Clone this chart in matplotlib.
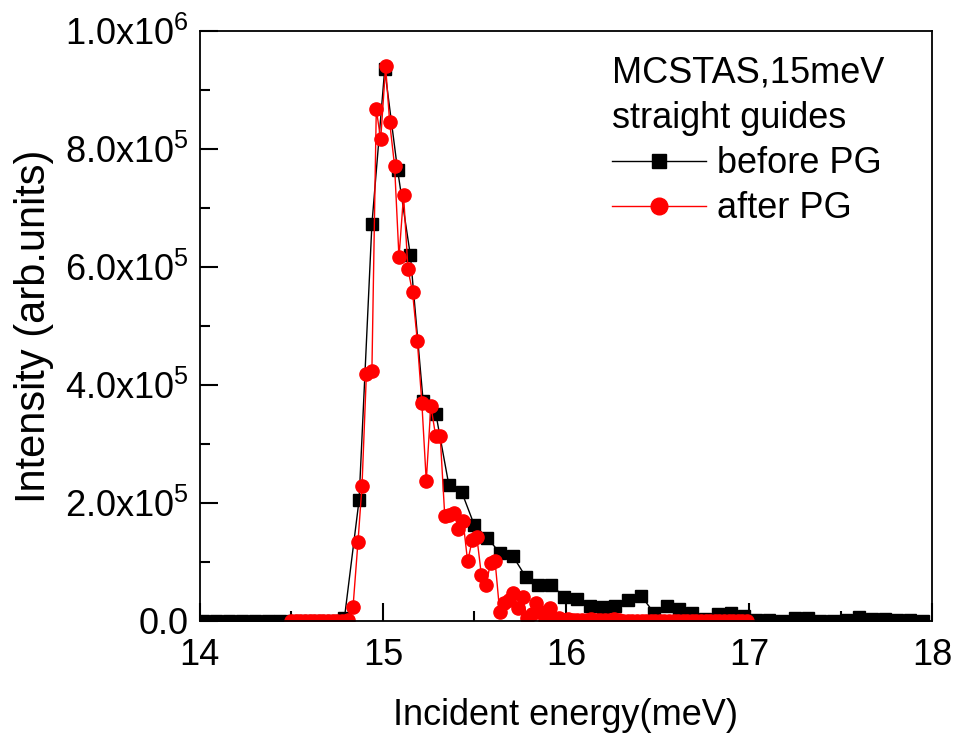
import matplotlib
matplotlib.use("Agg")
import matplotlib.pyplot as plt
from matplotlib.ticker import MultipleLocator, FixedLocator

plt.rcParams['font.family'] = ['Liberation Sans', 'DejaVu Sans']
plt.rcParams['mathtext.fontset'] = 'custom'
plt.rcParams['mathtext.rm'] = 'Liberation Sans'
plt.rcParams['mathtext.it'] = 'Liberation Sans'
plt.rcParams['mathtext.bf'] = 'Liberation Sans'

# before PG (black squares), energy in meV, intensity in units of 1e3
before_E = [14.02, 14.09, 14.16, 14.23, 14.30, 14.37, 14.44, 14.51, 14.58, 14.65,
            14.72, 14.79, 14.87, 14.94, 15.01, 15.08, 15.15, 15.22, 15.29, 15.36,
            15.43, 15.50, 15.57, 15.64, 15.71, 15.78, 15.85, 15.92, 15.99, 16.06,
            16.13, 16.20, 16.27, 16.34, 16.41, 16.48, 16.55, 16.62, 16.69, 16.76,
            16.83, 16.90, 16.97, 17.04, 17.11, 17.18, 17.25, 17.32, 17.39, 17.46,
            17.53, 17.60, 17.67, 17.74, 17.81, 17.88, 17.95]
before_I = [0, 0, 0, 0, 0, 0, 0, 0, 0, 0,
            0, 5, 205, 672, 935, 765, 620, 372, 350, 231,
            219, 162, 141, 115, 110, 75, 61, 61, 41, 37,
            26, 23, 26, 36, 43, 14, 26, 20, 13, 3,
            11, 14, 8, 1, 1, 0, 5, 5, 0, 0,
            1, 7, 3, 3, 2, 2, 0.5]

# after PG (red circles)
after_E = [14.50, 14.525, 14.55, 14.575, 14.60, 14.625, 14.65, 14.675, 14.70, 14.725,
           14.75, 14.775, 14.81, 14.837, 14.864, 14.886, 14.91, 14.94, 14.964, 14.988,
           15.015, 15.037, 15.064, 15.088, 15.113, 15.137, 15.162, 15.188, 15.213, 15.237,
           15.262, 15.288, 15.313, 15.338, 15.363, 15.388, 15.413, 15.438, 15.463, 15.488,
           15.513, 15.538, 15.563, 15.588, 15.613, 15.638, 15.663, 15.688, 15.713, 15.738,
           15.763, 15.788, 15.813, 15.838, 15.863, 15.888, 15.913, 15.938, 15.963, 15.988,
           16.013, 16.038, 16.063, 16.088, 16.113, 16.138, 16.163, 16.188, 16.213, 16.238,
           16.263, 16.288, 16.313, 16.338, 16.363, 16.388, 16.413, 16.438, 16.463, 16.488,
           16.513, 16.538, 16.563, 16.588, 16.613, 16.638, 16.663, 16.688, 16.713, 16.738,
           16.763, 16.788, 16.813, 16.838, 16.863, 16.888, 16.913, 16.938, 16.963, 16.988]
after_I = [0, 0, 0, 0, 0, 0, 0, 0, 0, 0,
           0, 0, 2, 24, 134, 229, 419, 423, 867, 816,
           940, 845, 771, 616, 722, 596, 557, 475, 369, 237,
           365, 314, 314, 178, 180, 183, 155, 169, 101, 137,
           143, 78, 61, 98, 101, 16, 30, 35, 47, 22,
           41, 5, 12, 30, 16, 3, 22, 3, 5, 2,
           3, 2, 1, 1, 2, 3, 1, 1, 1, 1,
           3, 1, 0.5, 0.5, 0.5, 0.5, 0.5, 0.5, 0.5, 0.5,
           0.5, 0.5, 0.5, 0.5, 0.5, 0.5, 0.5, 0.5, 0.5, 0.5,
           0.5, 0.5, 0.5, 0.5, 0.5, 0.5, 0.5, 0.5, 0.5, 0.5]

y_ticks = [0, 2e5, 4e5, 6e5, 8e5, 1e6]
y_labels = ['0.0', r'$\mathregular{2.0x10^5}$', r'$\mathregular{4.0x10^5}$',
            r'$\mathregular{6.0x10^5}$', r'$\mathregular{8.0x10^5}$', r'$\mathregular{1.0x10^6}$']

fig = plt.figure(figsize=(9.56, 7.34), dpi=100)
ax = fig.add_axes([0.209, 0.154, 0.766, 0.804])

ax.plot(before_E, [v * 1e3 for v in before_I], color='black', lw=1.0,
        marker='s', ms=8.5, mec='black', mfc='black', label='before PG')
ax.plot(after_E, [v * 1e3 for v in after_I], color='red', lw=1.0,
        marker='o', ms=9.5, mec='red', mfc='red', label='after PG')

ax.set_xlim(14, 18)
ax.set_ylim(0, 1e6)
ax.xaxis.set_major_locator(MultipleLocator(1))
ax.xaxis.set_minor_locator(MultipleLocator(0.5))
ax.yaxis.set_major_locator(FixedLocator(y_ticks))
ax.yaxis.set_minor_locator(MultipleLocator(1e5))
ax.set_yticklabels(y_labels)

ax.tick_params(which='both', direction='in', width=1.5, labelsize=26)
ax.tick_params(which='major', length=13)
ax.tick_params(which='minor', length=7)
ax.tick_params(axis='x', which='major', pad=12)
ax.tick_params(axis='y', which='major', pad=8)
for s in ax.spines.values():
    s.set_linewidth(1.3)

ax.set_xlabel('Incident energy(meV)', fontsize=26, labelpad=18)
ax.set_ylabel('Intensity (arb.units)', fontsize=30, labelpad=8)

leg = ax.legend(title='MCSTAS,15meV\nstraight guides', loc='upper left',
                bbox_to_anchor=(0.543, 0.983), frameon=False, fontsize=26,
                title_fontsize=26, alignment='left', handlelength=2.6,
                handletextpad=0.3, labelspacing=0.28, borderaxespad=0)
leg.get_title().set_linespacing(1.4)
leg.get_lines()[0].set_markersize(10)
leg.get_lines()[1].set_markersize(12)

fig.savefig('out.png', dpi=100)
